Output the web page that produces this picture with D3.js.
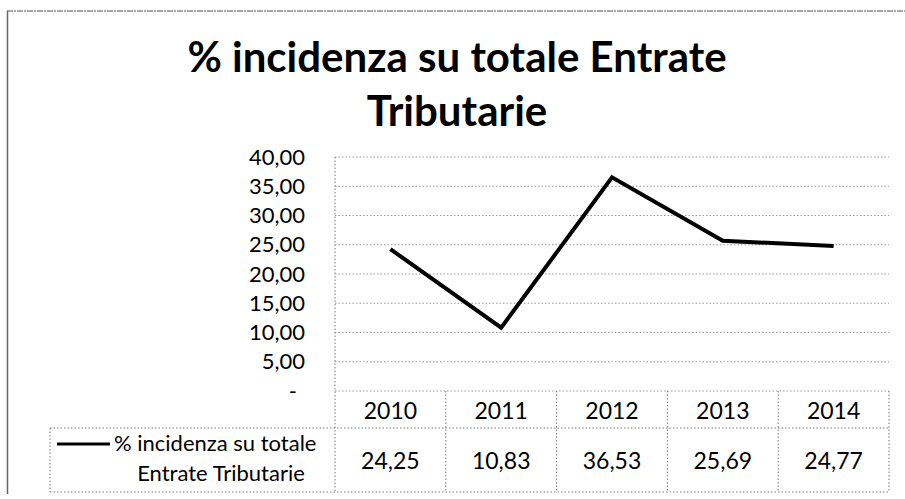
<!DOCTYPE html>
<html>
<head>
<meta charset="utf-8">
<script src="https://cdn.jsdelivr.net/npm/d3@7"></script>
<style>
  body { margin: 0; background: #fff; }
  text { font-family: Lato, "Open Sans", sans-serif; fill: #000; }
</style>
</head>
<body>
<svg id="chart"></svg>
<script>
const WIDTH = 905;
const HEIGHT = 499;

const years = ["2010", "2011", "2012", "2013", "2014"];
const values = [24.25, 10.83, 36.53, 25.69, 24.77];
const yTicks = [0, 5, 10, 15, 20, 25, 30, 35, 40];
const titleLines = ["% incidenza su totale Entrate", "Tributarie"];
const legendLines = ["% incidenza su totale", "Entrate Tributarie"];

const svg = d3.select("#chart").attr("width", WIDTH).attr("height", HEIGHT);

const plot = { left: 335, right: 889, top: 157, bottom: 391 };
const table = { headerBottom: 428, bottom: 492, legendLeft: 50 };

const fmt = (v) => (v === 0 ? "-" : d3.format(".2f")(v).replace(".", ","));

const xScale = d3.scaleBand().domain(years).range([plot.left, plot.right]);
const yScale = d3.scaleLinear().domain([0, 40]).range([plot.bottom, plot.top]);

// outer frame (only top and left edges visible in the scan)
svg.append("line").attr("x1", 7).attr("x2", WIDTH).attr("y1", 11).attr("y2", 11)
  .attr("stroke", "#555").attr("stroke-width", 1.2).attr("stroke-dasharray", "6 1 2 1");
svg.append("line").attr("x1", 7.5).attr("x2", 7.5).attr("y1", 11).attr("y2", 494)
  .attr("stroke", "#666").attr("stroke-width", 1.5);

// title
svg.append("g")
  .selectAll("text")
  .data(titleLines)
  .join("text")
  .attr("x", 457)
  .attr("y", (d, i) => 72 + i * 54)
  .attr("text-anchor", "middle")
  .attr("font-size", "42px")
  .attr("font-weight", "bold")
  .text((d) => d);

// gridlines
const dotted = "1.5 2";
svg.append("g")
  .selectAll("line")
  .data(yTicks)
  .join("line")
  .attr("x1", plot.left)
  .attr("x2", plot.right)
  .attr("y1", (d) => yScale(d))
  .attr("y2", (d) => yScale(d))
  .attr("stroke", "#999")
  .attr("stroke-width", 1)
  .attr("stroke-dasharray", dotted);

// y axis labels
svg.append("g")
  .selectAll("text")
  .data(yTicks)
  .join("text")
  .attr("x", (d) => (d === 0 ? 297 : 305))
  .attr("y", (d) => yScale(d))
  .attr("dy", "0.35em")
  .attr("text-anchor", "end")
  .attr("font-size", "22px")
  .text(fmt);

// table grid: verticals
const colEdges = years.map((y) => xScale(y)).concat([plot.right]);
svg.append("g")
  .selectAll("line")
  .data(colEdges)
  .join("line")
  .attr("x1", (d) => d)
  .attr("x2", (d) => d)
  .attr("y1", (d, i) => (i === 0 ? plot.top : plot.bottom))
  .attr("y2", table.bottom)
  .attr("stroke", "#777")
  .attr("stroke-dasharray", dotted);

// table grid: horizontals
svg.append("line")
  .attr("x1", table.legendLeft).attr("x2", plot.right)
  .attr("y1", table.headerBottom).attr("y2", table.headerBottom)
  .attr("stroke", "#777").attr("stroke-dasharray", dotted);
svg.append("line")
  .attr("x1", table.legendLeft).attr("x2", plot.right)
  .attr("y1", table.bottom).attr("y2", table.bottom)
  .attr("stroke", "#777").attr("stroke-dasharray", dotted);
svg.append("line")
  .attr("x1", table.legendLeft).attr("x2", table.legendLeft)
  .attr("y1", table.headerBottom).attr("y2", table.bottom)
  .attr("stroke", "#777").attr("stroke-dasharray", dotted);

// header years
svg.append("g")
  .selectAll("text")
  .data(years)
  .join("text")
  .attr("x", (d) => xScale(d) + xScale.bandwidth() / 2)
  .attr("y", 411)
  .attr("dy", "0.35em")
  .attr("text-anchor", "middle")
  .attr("font-size", "23px")
  .text((d) => d);

// values row
svg.append("g")
  .selectAll("text")
  .data(values)
  .join("text")
  .attr("x", (d, i) => xScale(years[i]) + xScale.bandwidth() / 2)
  .attr("y", 461)
  .attr("dy", "0.35em")
  .attr("text-anchor", "middle")
  .attr("font-size", "23px")
  .text(fmt);

// legend key
svg.append("line")
  .attr("x1", 57).attr("x2", 110).attr("y1", 444).attr("y2", 444)
  .attr("stroke", "#000").attr("stroke-width", 3);
svg.append("g")
  .selectAll("text")
  .data(legendLines)
  .join("text")
  .attr("x", (d, i) => (i === 0 ? 114 : 221))
  .attr("y", (d, i) => 443 + i * 30)
  .attr("dy", "0.35em")
  .attr("text-anchor", (d, i) => (i === 0 ? "start" : "middle"))
  .attr("font-size", "22px")
  .text((d) => d);

// line series
const line = d3.line()
  .x((d, i) => xScale(years[i]) + xScale.bandwidth() / 2)
  .y((d) => yScale(d));

svg.append("path")
  .datum(values)
  .attr("d", line)
  .attr("fill", "none")
  .attr("stroke", "#000")
  .attr("stroke-width", 4)
  .attr("stroke-linejoin", "miter");
</script>
</body>
</html>
